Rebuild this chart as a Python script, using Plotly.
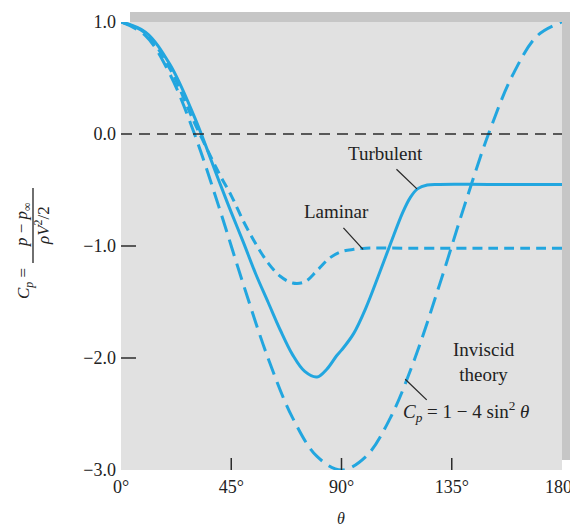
import plotly.graph_objects as go

# 圧力係数の分布（円柱まわり）
THETA_INV = [0, 10, 20, 30, 40, 50, 60, 70, 80, 90,
             100, 110, 120, 130, 140, 150, 160, 170, 180]
CP_INV = [1.0, 0.879, 0.532, 0.0, -0.653, -1.347, -2.0, -2.532, -2.879, -3.0,
          -2.879, -2.532, -2.0, -1.347, -0.653, 0.0, 0.532, 0.879, 1.0]

THETA_LAM = [0, 10, 20, 30, 40, 45, 50, 55, 60, 65, 70, 75, 80, 85, 90, 95, 100, 120, 150, 180]
CP_LAM = [1.0, 0.9, 0.58, 0.1, -0.35, -0.55, -0.78, -0.98, -1.15, -1.27, -1.33, -1.32,
          -1.22, -1.11, -1.05, -1.03, -1.02, -1.02, -1.02, -1.02]

THETA_TURB = [0, 10, 20, 30, 40, 45, 50, 55, 60, 65, 70, 75, 80, 84, 88, 90, 95,
              100, 105, 110, 115, 118, 121, 125, 130, 150, 180]
CP_TURB = [1.0, 0.91, 0.62, 0.15, -0.42, -0.7, -0.97, -1.25, -1.5, -1.75, -1.97, -2.12,
           -2.17, -2.1, -1.98, -1.93, -1.78, -1.55, -1.27, -0.98, -0.7, -0.57, -0.49,
           -0.455, -0.45, -0.45, -0.45]

X_TICKS = [0, 45, 90, 135, 180]
X_TICK_TEXT = ["0°", "45°", "90°", "135°", "180°"]
Y_TICKS = [-3, -2, -1, 0, 1]
Y_TICK_TEXT = ["−3.0", "−2.0", "−1.0", "0.0", "1.0"]
Y_TICK_MARKS = [-2, -1]

BLUE = "#22a6df"
DARK = "#2b2b2b"
LIGHT_BG = "#e1e1e1"
BAND = "#c6c6c6"
FONT = "Liberation Serif"

# ページの余白（body margin 8px）を差し引いた図の大きさ
OFF = 8
W, H = 578 - OFF, 526 - OFF
ML, MR, MT, MB = 121 - OFF, 578 - 562, 22 - OFF, 526 - 470
PW = W - ML - MR
PH = H - MT - MB


def px_x(px):
    # ページ上のx座標 -> paper座標
    return (px - OFF - ML) / PW


def px_y(py):
    # ページ上のy座標 -> paper座標
    return (H - MB - (py - OFF)) / PH


fig = go.Figure()

fig.add_trace(go.Scatter(
    x=THETA_INV, y=CP_INV, mode="lines", line_shape="spline",
    line=dict(color=BLUE, width=3, dash="17px,8px"), showlegend=False,
))
fig.add_trace(go.Scatter(
    x=THETA_LAM, y=CP_LAM, mode="lines", line_shape="spline",
    line=dict(color=BLUE, width=3, dash="10px,6px"), showlegend=False,
))
fig.add_trace(go.Scatter(
    x=THETA_TURB, y=CP_TURB, mode="lines", line_shape="spline",
    line=dict(color=BLUE, width=3), showlegend=False,
))

# 影の帯（上と右）
fig.add_shape(type="rect", xref="paper", yref="paper", layer="below",
              x0=px_x(130), x1=px_x(572), y0=1, y1=px_y(12),
              fillcolor=BAND, line_width=0)
fig.add_shape(type="rect", xref="paper", yref="paper", layer="below",
              x0=1, x1=px_x(572), y0=px_y(460), y1=px_y(12),
              fillcolor=BAND, line_width=0)

# ゼロ線
fig.add_shape(type="line", xref="x", yref="y", x0=0, x1=180, y0=0, y1=0,
              line=dict(color=DARK, width=1.6, dash="11px,7px"))

# 目盛り線（内側）
for v in X_TICKS[1:-1]:
    fig.add_shape(type="line", xref="x", yref="y domain", x0=v, x1=v, y0=0, y1=12 / PH,
                  line=dict(color=DARK, width=1.5))
for v in Y_TICK_MARKS:
    fig.add_shape(type="line", xref="x domain", yref="y", x0=0, x1=15 / PW, y0=v, y1=v,
                  line=dict(color=DARK, width=1.5))

# ラベルと引き出し線
label_font = dict(family=FONT, size=19, color="#222")


def label(px, py, text, font=label_font, angle=0):
    fig.add_annotation(x=px_x(px), y=px_y(py), xref="paper", yref="paper",
                       xanchor="center", yanchor="middle", textangle=angle,
                       text=text, showarrow=False, font=font)


label(385, 153, "Turbulent")
label(336, 211, "Laminar")
label(484, 362, "Inviscid<br>theory")
label(466, 411, "<i>C<sub>p</sub></i> = 1 − 4 sin<sup>2</sup> <i>θ</i>")

leaders = [(120.8, -0.49, -22, -21), (98.8, -1.03, -21, -23), (116.0, -2.19, 23, 22)]
for lx, ly, ax, ay in leaders:
    fig.add_annotation(x=lx, y=ly, xref="x", yref="y", text="", showarrow=True,
                       arrowhead=0, arrowwidth=1.3, arrowcolor=DARK, ax=ax, ay=ay)

# 縦軸タイトル（分数）
title_font = dict(family=FONT, size=17, color="#222")
label(25, 284, "<i>C<sub>p</sub></i> =", title_font, -90)
label(23, 225, "<i>p</i> − <i>p</i><sub>∞</sub>", title_font, -90)
label(42, 226, "<i>ρV</i><sup>2</sup>/2", title_font, -90)
fig.add_shape(type="line", xref="paper", yref="paper",
              x0=px_x(33), x1=px_x(33), y0=px_y(263), y1=px_y(188),
              line=dict(color="#222", width=1.3))

# 横軸タイトル
label(341, 518, "<i>θ</i>", dict(family=FONT, size=16, color="#222"))

fig.update_xaxes(range=[0, 180], tickvals=X_TICKS, ticktext=X_TICK_TEXT, ticks="",
                 showgrid=False, zeroline=False, showline=False, ticklabeloverflow="allow",
                 tickfont=dict(family=FONT, size=18, color="#222"), ticklabelstandoff=4)
fig.update_yaxes(range=[-3, 1], tickvals=Y_TICKS, ticktext=Y_TICK_TEXT, ticks="",
                 showgrid=False, zeroline=False, showline=False,
                 tickfont=dict(family=FONT, size=18, color="#222"), ticklabelstandoff=4)

fig.update_layout(
    width=W, height=H,
    margin=dict(l=ML, r=MR, t=MT, b=MB, autoexpand=False),
    plot_bgcolor=LIGHT_BG, paper_bgcolor="#FFFFFF",
    showlegend=False,
)

fig.write_html("out.html")
